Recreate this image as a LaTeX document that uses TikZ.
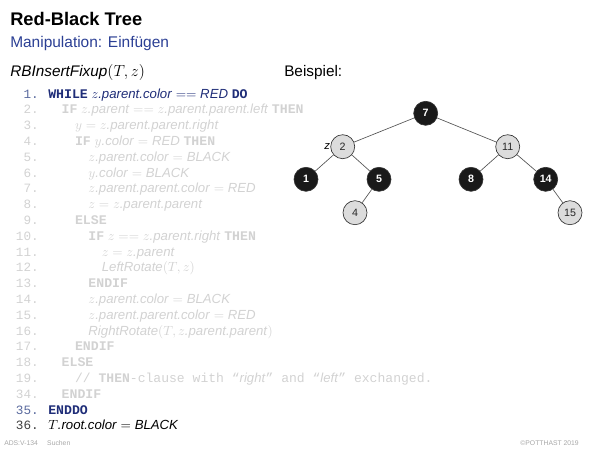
\documentclass[tikz,border=0pt]{standalone}
\usepackage{fontspec}
\setmainfont{Liberation Sans}
\setmonofont{Liberation Mono}
\begin{document}
\definecolor{navy}{HTML}{1F2D78}
\definecolor{subblue}{HTML}{2B3F94}
\definecolor{numblue}{HTML}{5A6A9E}
\definecolor{faded}{HTML}{D2D2D2}
\definecolor{redgray}{HTML}{DCDCDC}
\definecolor{edgegray}{HTML}{555555}
\newcommand{\kw}[1]{\textbf{\ttfamily #1}}
\newcommand{\itx}[1]{\textit{#1}}
\begin{tikzpicture}[x=0.75pt,y=-0.75pt,
  title/.style={anchor=base west,inner sep=0pt,font=\fontsize{13.7}{15}\selectfont\bfseries},
  subtitle/.style={anchor=base west,inner sep=0pt,text=subblue,font=\fontsize{11.6}{13}\selectfont},
  heading/.style={anchor=base west,inner sep=0pt,font=\fontsize{11.5}{13}\selectfont},
  lnum/.style={anchor=base east,inner sep=0pt,font=\fontsize{9.5}{11}\selectfont\ttfamily},
  codeline/.style={anchor=base west,inner sep=0pt,font=\fontsize{9.9}{11}\selectfont},
  off/.style={text=faded},
  foot/.style={inner sep=0pt,text=gray!70,font=\fontsize{5.1}{6}\selectfont},
  rbnode/.style={circle,draw=black!80,line width=0.5pt,minimum size=18pt,inner sep=0pt,
    font=\fontsize{8}{9}\selectfont},
  blk/.style={rbnode,fill=black!90,text=white,font=\fontsize{8}{9}\selectfont\bfseries},
  rd/.style={rbnode,fill=redgray,text=black!85},
  edge/.style={draw=edgegray,line width=0.5pt}]
\useasboundingbox (0,0) rectangle (600,450);

% headings
\node[title] (ttl) at (10,25) {Red-Black Tree};
\node[subtitle] (sub) at (10,47) {Manipulation: Einfügen};
\node[heading] (alg) at (10,76) {\itx{RBInsertFixup}$(T,z)$};
\node[heading] (bsp) at (284,76) {Beispiel:};

% pseudo code: indentation levels at 48 + 13.4*k, baselines 15.8 apart
\def\ind#1{\fpeval{48+13.4*#1}}
\def\yy#1{\fpeval{98+15.8*#1}}

\node[lnum,text=numblue] (n1) at (39,\yy{0}) {1.};
\node[codeline,text=navy] (c1) at (\ind{0},\yy{0}) {\kw{WHILE} $z$\itx{.parent.color} $==$ \itx{RED} \kw{DO}};

\begin{scope}[every node/.append style={off}]
\node[lnum] (n2) at (39,\yy{1}) {2.};
\node[codeline] (c2) at (\ind{1},\yy{1}) {\kw{IF} $z$\itx{.parent} $==$ $z$\itx{.parent.parent.left} \kw{THEN}};
\node[lnum] (n3) at (39,\yy{2}) {3.};
\node[codeline] (c3) at (\ind{2},\yy{2}) {$y=z$\itx{.parent.parent.right}};
\node[lnum] (n4) at (39,\yy{3}) {4.};
\node[codeline] (c4) at (\ind{2},\yy{3}) {\kw{IF} $y$\itx{.color} $=$ \itx{RED} \kw{THEN}};
\node[lnum] (n5) at (39,\yy{4}) {5.};
\node[codeline] (c5) at (\ind{3},\yy{4}) {$z$\itx{.parent.color} $=$ \itx{BLACK}};
\node[lnum] (n6) at (39,\yy{5}) {6.};
\node[codeline] (c6) at (\ind{3},\yy{5}) {$y$\itx{.color} $=$ \itx{BLACK}};
\node[lnum] (n7) at (39,\yy{6}) {7.};
\node[codeline] (c7) at (\ind{3},\yy{6}) {$z$\itx{.parent.parent.color} $=$ \itx{RED}};
\node[lnum] (n8) at (39,\yy{7}) {8.};
\node[codeline] (c8) at (\ind{3},\yy{7}) {$z=z$\itx{.parent.parent}};
\node[lnum] (n9) at (39,\yy{8}) {9.};
\node[codeline] (c9) at (\ind{2},\yy{8}) {\kw{ELSE}};
\node[lnum] (n10) at (39,\yy{9}) {10.};
\node[codeline] (c10) at (\ind{3},\yy{9}) {\kw{IF} $z==z$\itx{.parent.right} \kw{THEN}};
\node[lnum] (n11) at (39,\yy{10}) {11.};
\node[codeline] (c11) at (\ind{4},\yy{10}) {$z=z$\itx{.parent}};
\node[lnum] (n12) at (39,\yy{11}) {12.};
\node[codeline] (c12) at (\ind{4},\yy{11}) {\itx{LeftRotate}$(T,z)$};
\node[lnum] (n13) at (39,\yy{12}) {13.};
\node[codeline] (c13) at (\ind{3},\yy{12}) {\kw{ENDIF}};
\node[lnum] (n14) at (39,\yy{13}) {14.};
\node[codeline] (c14) at (\ind{3},\yy{13}) {$z$\itx{.parent.color} $=$ \itx{BLACK}};
\node[lnum] (n15) at (39,\yy{14}) {15.};
\node[codeline] (c15) at (\ind{3},\yy{14}) {$z$\itx{.parent.parent.color} $=$ \itx{RED}};
\node[lnum] (n16) at (39,\yy{15}) {16.};
\node[codeline] (c16) at (\ind{3},\yy{15}) {\itx{RightRotate}$(T,z$\itx{.parent.parent}$)$};
\node[lnum] (n17) at (39,\yy{16}) {17.};
\node[codeline] (c17) at (\ind{2},\yy{16}) {\kw{ENDIF}};
\node[lnum] (n18) at (39,\yy{17}) {18.};
\node[codeline] (c18) at (\ind{1},\yy{17}) {\kw{ELSE}};
\node[lnum] (n19) at (39,\yy{18}) {19.};
\node[codeline] (c19) at (\ind{2},\yy{18}) {\fontsize{9.8}{11}\selectfont\ttfamily // \textbf{THEN}-clause with “\textrm{\itx{right}}” and “\textrm{\itx{left}}” exchanged.};
\node[lnum] (n34) at (39,\yy{19}) {34.};
\node[codeline] (c34) at (\ind{1},\yy{19}) {\kw{ENDIF}};
\end{scope}

\node[lnum,text=numblue] (n35) at (39,\yy{20}) {35.};
\node[codeline,text=navy] (c35) at (\ind{0},\yy{20}) {\kw{ENDDO}};
\node[lnum,text=black!75] (n36) at (39,\yy{21}) {36.};
\node[codeline] (c36) at (\ind{0},\yy{21}) {$T$\itx{.root.color} $=$ \itx{BLACK}};

% example tree
\node[blk] (t7) at (425.7,113.3) {7};
\node[rd] (t2) at (342.7,146.7) {2};
\node[rd] (t11) at (507.7,146.7) {11};
\node[blk] (t1) at (306,179.3) {1};
\node[blk] (t5) at (379,179.3) {5};
\node[blk] (t8) at (471,179.3) {8};
\node[blk] (t14) at (545.7,179.3) {14};
\node[rd] (t4) at (355,212.7) {4};
\node[rd] (t15) at (570,212.7) {15};
\node[inner sep=0pt,font=\fontsize{8.5}{9}\selectfont\itshape,anchor=east] (zlab) at (t2.west) {z\hspace{3pt}};

\path[edge] (t7) -- (t2);
\path[edge] (t7) -- (t11);
\path[edge] (t2) -- (t1);
\path[edge] (t2) -- (t5);
\path[edge] (t5) -- (t4);
\path[edge] (t11) -- (t8);
\path[edge] (t11) -- (t14);
\path[edge] (t14) -- (t15);

% footer
\node[foot,anchor=base west] (fl) at (4,445) {ADS:V-134\hspace{7pt}Suchen};
\node[foot,anchor=base east] (fr) at (579,445) {\textcopyright POTTHAST 2019};
\end{tikzpicture}
\end{document}
